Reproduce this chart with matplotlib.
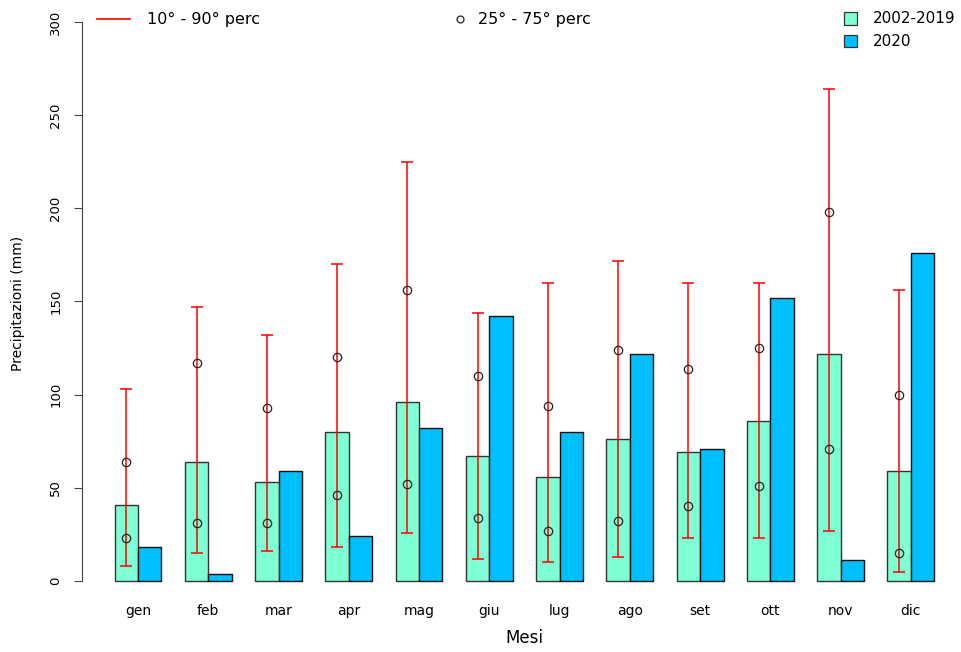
import numpy as np
import matplotlib.pyplot as plt
from matplotlib.lines import Line2D
from matplotlib.patches import Rectangle

# monthly precipitation (mm)
mesi = ["gen", "feb", "mar", "apr", "mag", "giu", "lug", "ago", "set", "ott", "nov", "dic"]
prec_2002_2019 = [41, 64, 53, 80, 96, 67, 56, 76, 69, 86, 122, 59]
prec_2020 = [18, 4, 59, 24, 82, 142, 80, 122, 71, 152, 11, 176]
perc10 = [8, 15, 16, 18, 26, 12, 10, 13, 23, 23, 27, 5]
perc90 = [103, 147, 132, 170, 225, 144, 160, 172, 160, 160, 264, 156]
perc25 = [23, 31, 31, 46, 52, 34, 27, 32, 40, 51, 71, 15]
perc75 = [64, 117, 93, 120, 156, 110, 94, 124, 114, 125, 198, 100]

col_clim = "#7FFFD4"
col_2020 = "#00BFFF"

W, H = 961, 652
fig = plt.figure(figsize=(W / 100, H / 100), dpi=100)

# axes placement in pixels
ax_l, ax_r, ax_t, ax_b = 81.8, 961, 8, 600
ax = fig.add_axes([ax_l / W, (H - ax_b) / H, (ax_r - ax_l) / W, (ax_b - ax_t) / H])

n = len(mesi)
x_clim = np.arange(n) * 3 + 1.5
x_2020 = x_clim + 1
centers = x_clim + 0.5

ax.bar(x_clim, prec_2002_2019, width=1, color=col_clim, edgecolor="#333333", linewidth=1, zorder=2)
ax.bar(x_2020, prec_2020, width=1, color=col_2020, edgecolor="#111111", linewidth=1, zorder=2)

p10 = np.array(perc10)
p90 = np.array(perc90)
ax.errorbar(x_clim, p10, yerr=[np.zeros(n), p90 - p10], fmt="none", ecolor="red",
            elinewidth=1.1, capsize=4, capthick=1.1, zorder=3)
ax.plot(x_clim, perc25, "o", ms=6, mfc="none", mec="#222222", mew=0.9, zorder=4)
ax.plot(x_clim, perc75, "o", ms=6, mfc="none", mec="#222222", mew=0.9, zorder=4)

px_unit = 23.42
ax.set_xlim(-0.4, -0.4 + (ax_r - ax_l) / px_unit)
py_unit = 558 / 300
ax.set_ylim(-(ax_b - 581) / py_unit, 300 + (22 - ax_t) / py_unit)

for s in ["top", "right", "bottom"]:
    ax.spines[s].set_visible(False)
ax.spines["left"].set_bounds(0, 300)
ax.spines["left"].set_color("#444444")

ax.set_yticks(range(0, 301, 50))
ax.tick_params(axis="y", length=6, color="#444444", labelsize=9.5, pad=8)
for lab in ax.get_yticklabels():
    lab.set_rotation(90)
    lab.set_va("center")

ax.set_xticks(centers)
ax.set_xticklabels(mesi)
ax.tick_params(axis="x", length=0, labelsize=10, pad=3)

fig.text(524 / W, 1 - 638 / H, "Mesi", ha="center", va="center", fontsize=12)
fig.text(18 / W, 1 - 303 / H, "Precipitazioni (mm)", ha="center", va="center",
         rotation=90, fontsize=10)

# legends drawn by hand
def fx(px):
    return px / W

def fy(py):
    return 1 - py / H

fig.add_artist(Line2D([fx(97), fx(130)], [fy(19), fy(19)], color="red", lw=1.2))
fig.text(fx(147), fy(19), "10° - 90° perc", va="center", fontsize=11.5)
fig.add_artist(Line2D([fx(460)], [fy(19)], marker="o", ms=5, mfc="none", mec="#222222", mew=0.9))
fig.text(fx(478), fy(19), "25° - 75° perc", va="center", fontsize=11.5)

for yc, c, lab in [(18.5, col_clim, "2002-2019"), (41, col_2020, "2020")]:
    fig.add_artist(Rectangle((fx(844), fy(yc + 6)), 13 / W, 12 / H, facecolor=c,
                             edgecolor="#333333", lw=0.9))
    fig.text(fx(873), fy(yc), lab, va="center", fontsize=11)

fig.savefig("out.png", dpi=100)
